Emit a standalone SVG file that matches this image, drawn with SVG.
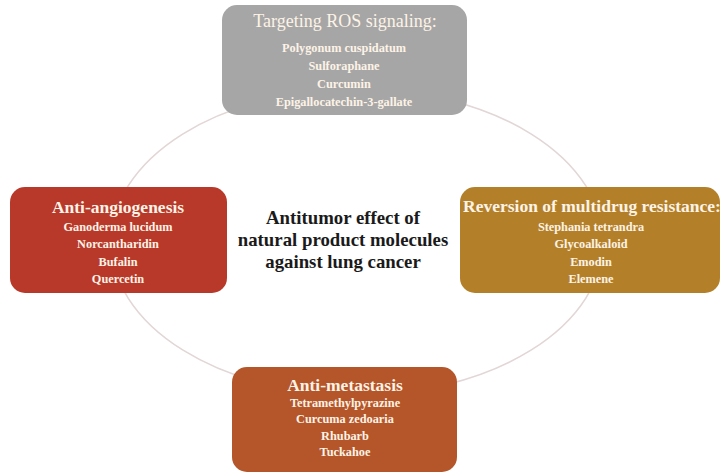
<svg xmlns="http://www.w3.org/2000/svg" width="722" height="474" viewBox="0 0 722 474">
<style>
.box{stroke:none}
.t{font-family:"Liberation Serif","Times New Roman",serif;font-weight:bold;fill:#fdf3e6;text-anchor:middle}
.h{font-size:17.5px}
.i{font-size:12.3px}
.c{font-family:"Liberation Serif","Times New Roman",serif;font-weight:bold;font-size:18.8px;fill:#1a1a1a;text-anchor:middle}
</style>
<rect width="722" height="474" fill="#ffffff"/>
<g id="connectors">
<ellipse cx="357" cy="242" rx="246" ry="153" fill="none" stroke="#e2d6d6" stroke-width="1.6"/>
</g>
<g id="center">
<text class="c" x="343" y="224">Antitumor effect of</text>
<text class="c" x="343" y="246">natural product molecules</text>
<text class="c" x="343" y="268">against lung cancer</text>
</g>
<g id="ros">
<rect class="box" x="222" y="5" width="245" height="110" rx="15" fill="#a6a6a6"/>
<text class="t" x="345" y="27" style="font-size:18px;font-weight:normal">Targeting ROS signaling:</text>
<text class="t i" x="344" y="52">Polygonum cuspidatum</text>
<text class="t i" x="344" y="70">Sulforaphane</text>
<text class="t i" x="344" y="88">Curcumin</text>
<text class="t i" x="344" y="106">Epigallocatechin-3-gallate</text>
</g>
<g id="angio">
<rect class="box" x="10" y="187" width="217" height="106" rx="15" fill="#b8392a"/>
<text class="t h" x="118" y="213">Anti-angiogenesis</text>
<text class="t i" x="118" y="231">Ganoderma lucidum</text>
<text class="t i" x="118" y="248">Norcantharidin</text>
<text class="t i" x="118" y="266">Bufalin</text>
<text class="t i" x="118" y="283">Quercetin</text>
</g>
<g id="mdr">
<rect class="box" x="460" y="187" width="260" height="106" rx="15" fill="#b38029"/>
<text class="t h" x="592" y="212">Reversion of multidrug resistance:</text>
<text class="t i" x="591" y="231">Stephania tetrandra</text>
<text class="t i" x="591" y="248">Glycoalkaloid</text>
<text class="t i" x="591" y="266">Emodin</text>
<text class="t i" x="591" y="283">Elemene</text>
</g>
<g id="meta">
<rect class="box" x="232" y="367" width="225" height="105" rx="15" fill="#b4562a"/>
<text class="t h" x="345" y="391">Anti-metastasis</text>
<text class="t i" x="345" y="407">Tetramethylpyrazine</text>
<text class="t i" x="345" y="423">Curcuma zedoaria</text>
<text class="t i" x="345" y="440">Rhubarb</text>
<text class="t i" x="345" y="456">Tuckahoe</text>
</g>
</svg>
